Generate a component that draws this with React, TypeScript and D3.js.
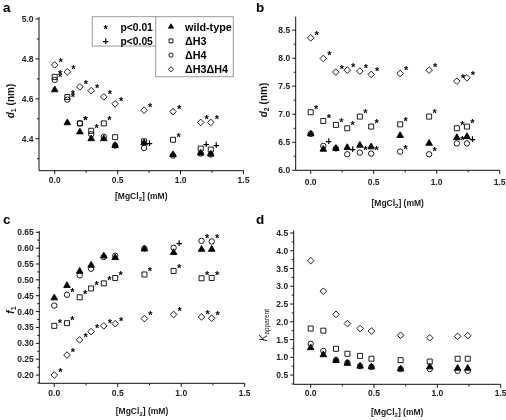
import React from 'react';
import * as d3 from 'd3';

// ---------- data ----------
const mgcl2 = [0, 0.1, 0.2, 0.29, 0.39, 0.48, 0.71, 0.94, 1.16, 1.24];
const xTicks = [0, 0.5, 1.0, 1.5];
const xMinorTicks = [0.25, 0.75, 1.25];

// panel a: d1 (nm)
const d1WildType = [4.645, 4.48, 4.434, 4.4, 4.4, 4.366, 4.379, 4.32, 4.328, 4.323];
const d1H3 = [4.71, 4.609, 4.477, 4.44, 4.477, 4.408, 4.387, 4.395, 4.351, 4.346];
const d1H4 = [4.695, 4.596, 4.477, 4.423, 4.41, 4.366, 4.354, 4.316, 4.326, 4.321];
const d1H3H4 = [4.77, 4.735, 4.66, 4.641, 4.61, 4.575, 4.543, 4.536, 4.482, 4.482];
const d1SigH3 = ['*', '*', '*', '*', '*', '', '', '*', '+', '+'];
const d1SigH4 = ['*', '*', '*', '', '', '', '+', '', '', ''];
const d1SigH3H4 = ['*', '*', '*', '*', '*', '*', '*', '*', '*', '*'];
const d1Ticks = [4.4, 4.6, 4.8, 5.0];

// panel b: d2 (nm)
const d2WildType = [6.65, 6.375, 6.39, 6.405, 6.446, 6.417, 6.62, 6.48, 6.583, 6.6];
const d2H3 = [7.036, 6.88, 6.81, 6.75, 6.958, 6.78, 6.82, 6.958, 6.75, 6.78];
const d2H4 = [6.649, 6.435, 6.39, 6.286, 6.315, 6.298, 6.333, 6.286, 6.48, 6.48];
const d2H3H4 = [8.363, 7.995, 7.752, 7.787, 7.77, 7.71, 7.728, 7.787, 7.59, 7.65];
const d2SigH3 = ['*', '*', '*', '*', '*', '*', '*', '*', '*', '*'];
const d2SigH4 = ['', '+', '', '+', '*', '*', '*', '*', '*', '+'];
const d2SigH3H4 = ['*', '*', '*', '*', '*', '*', '*', '*', '*', '*'];
const d2Ticks = [6.0, 6.5, 7.0, 7.5, 8.0, 8.5];

// panel c: f1
const f1WildType = [0.443, 0.482, 0.527, 0.546, 0.575, 0.57, 0.597, 0.586, 0.596, 0.596];
const f1H3 = [0.355, 0.3635, 0.445, 0.473, 0.489, 0.506, 0.517, 0.528, 0.505, 0.506];
const f1H4 = [0.419, 0.453, 0.514, 0.535, 0.572, 0.576, 0.599, 0.601, 0.623, 0.621];
const f1H3H4 = [0.2, 0.263, 0.311, 0.337, 0.355, 0.362, 0.378, 0.391, 0.383, 0.379];
const f1SigH3 = ['*', '*', '*', '*', '*', '*', '*', '*', '*', '*'];
const f1SigH4 = ['', '*', '', '', '', '', '', '+', '*', '*'];
const f1SigH3H4 = ['*', '*', '*', '*', '*', '*', '*', '*', '*', '*'];
const f1Ticks = [0.2, 0.25, 0.3, 0.35, 0.4, 0.45, 0.5, 0.55, 0.6, 0.65];

// panel d: K apparent
const kWildType = [1.27, 1.07, 0.91, 0.83, 0.75, 0.73, 0.67, 0.73, 0.69, 0.69];
const kH3 = [1.81, 1.75, 1.24, 1.1, 1.04, 0.96, 0.92, 0.88, 0.96, 0.96];
const kH4 = [1.38, 1.18, 0.92, 0.85, 0.75, 0.73, 0.67, 0.67, 0.62, 0.62];
const kH3H4 = [3.72, 2.86, 2.21, 1.95, 1.81, 1.74, 1.62, 1.55, 1.59, 1.61];
const kTicks = [0.5, 1.0, 1.5, 2.0, 2.5, 3.0, 3.5, 4.0, 4.5];

const seriesNames = ['wild-type', '\u0394H3', '\u0394H4', '\u0394H3\u0394H4'];
const sigLabels = ['p<0.01', 'p<0.05'];
const sigSymbols = ['*', '+'];

// ---------- styling ----------
const FONT = '"Liberation Sans", Arial, Helvetica, sans-serif';
type Shape = 'triangle' | 'square' | 'circle' | 'diamond';
const shapes: Shape[] = ['triangle', 'square', 'circle', 'diamond'];

const diamondType = {
  draw(ctx: any, size: number) {
    const r = Math.sqrt(size / 2);
    ctx.moveTo(0, -r);
    ctx.lineTo(r, 0);
    ctx.lineTo(0, r);
    ctx.lineTo(-r, 0);
    ctx.closePath();
  },
};

function symbolPath(shape: Shape, scale = 1): string {
  const gen = d3.symbol();
  if (shape === 'triangle') return gen.type(d3.symbolTriangle).size(19 * scale)() as string;
  if (shape === 'square') return gen.type(d3.symbolSquare).size(25 * scale)() as string;
  if (shape === 'circle') return gen.type(d3.symbolCircle).size(23 * scale)() as string;
  return gen.type(diamondType as any).size(22 * scale)() as string;
}

interface Series {
  values: number[];
  sig?: string[];
  shape: Shape;
}

interface PanelCfg {
  ox: number;
  oy: number;
  left: number;
  right: number;
  top: number;
  bottom: number;
  xMin: number;
  yDomain: [number, number];
  yTicks: number[];
  yMinorStep: number;
  yFmt: string;
  letter: string;
  yLabel: React.ReactNode;
  yLabelPos: [number, number];
  xLabelOff: number;
  xTitleOff: number;
  series: Series[];
  legend?: boolean;
}

const panels: PanelCfg[] = [
  {
    ox: 0, oy: 0, left: 39, right: 243.5, top: 17, bottom: 170.7, xMin: -0.125,
    yDomain: [4.24, 5.01], yTicks: d1Ticks, yMinorStep: 0.1, yFmt: '.1f', letter: 'a',
    yLabel: (
      <>
        <tspan fontStyle="italic">d</tspan>
        <tspan fontSize={7} dy={2}>1</tspan>
        <tspan dy={-2}> (nm)</tspan>
      </>
    ),
    yLabelPos: [14, 101], xLabelOff: 12, xTitleOff: 28,
    series: [
      { values: d1WildType, shape: 'triangle' },
      { values: d1H3, sig: d1SigH3, shape: 'square' },
      { values: d1H4, sig: d1SigH4, shape: 'circle' },
      { values: d1H3H4, sig: d1SigH3H4, shape: 'diamond' },
    ],
    legend: true,
  },
  {
    ox: 253, oy: 0, left: 42.7, right: 246.7, top: 16.7, bottom: 170.3, xMin: -0.119,
    yDomain: [6.0, 8.74], yTicks: d2Ticks, yMinorStep: 0.25, yFmt: '.1f', letter: 'b',
    yLabel: (
      <>
        <tspan fontStyle="italic">d</tspan>
        <tspan fontSize={7} dy={2}>2</tspan>
        <tspan dy={-2}> (nm)</tspan>
      </>
    ),
    yLabelPos: [13.5, 100], xLabelOff: 15, xTitleOff: 36,
    series: [
      { values: d2WildType, shape: 'triangle' },
      { values: d2H3, sig: d2SigH3, shape: 'square' },
      { values: d2H4, sig: d2SigH4, shape: 'circle' },
      { values: d2H3H4, sig: d2SigH3H4, shape: 'diamond' },
    ],
  },
  {
    ox: 0, oy: 210, left: 39.3, right: 244.7, top: 21, bottom: 173.3, xMin: -0.118,
    yDomain: [0.174, 0.654], yTicks: f1Ticks, yMinorStep: 0.025, yFmt: '.2f', letter: 'c',
    yLabel: (
      <>
        <tspan fontStyle="italic">f</tspan>
        <tspan fontSize={7} dy={2}>1</tspan>
      </>
    ),
    yLabelPos: [14, 100], xLabelOff: 13, xTitleOff: 31,
    series: [
      { values: f1WildType, shape: 'triangle' },
      { values: f1H3, sig: f1SigH3, shape: 'square' },
      { values: f1H4, sig: f1SigH4, shape: 'circle' },
      { values: f1H3H4, sig: f1SigH3H4, shape: 'diamond' },
    ],
  },
  {
    ox: 253, oy: 210, left: 40.7, right: 247.7, top: 20.5, bottom: 174.3, xMin: -0.134,
    yDomain: [0.24, 4.57], yTicks: kTicks, yMinorStep: 0.25, yFmt: '.1f', letter: 'd',
    yLabel: (
      <>
        <tspan fontStyle="italic" fontWeight="normal">K</tspan>
        <tspan fontSize={6.5} fontWeight="normal" dy={2}>apparent</tspan>
      </>
    ),
    yLabelPos: [14, 115], xLabelOff: 11.5, xTitleOff: 31,
    series: [
      { values: kWildType, shape: 'triangle' },
      { values: kH3, shape: 'square' },
      { values: kH4, shape: 'circle' },
      { values: kH3H4, shape: 'diamond' },
    ],
  },
];

function Marker({ shape, cx, cy, scale = 1 }: { shape: Shape; cx: number; cy: number; scale?: number }) {
  const filled = shape === 'triangle';
  return (
    <path
      d={symbolPath(shape, scale)}
      transform={`translate(${cx},${cy})`}
      fill={filled ? '#000' : 'none'}
      stroke="#000"
      strokeWidth={0.9}
    />
  );
}

// cx, cy: desired centre of the glyph
function SigMark({ s, cx, cy }: { s: string; cx: number; cy: number }) {
  if (!s) return null;
  return (
    <text
      x={cx}
      y={s === '*' ? cy + 6.4 : cy + 3.7}
      textAnchor="middle"
      fontSize={11}
      fontWeight="bold"
      fontFamily={FONT}
      fill="#000"
    >
      {s}
    </text>
  );
}

function Panel({ cfg }: { cfg: PanelCfg }) {
  const x = d3.scaleLinear().domain([cfg.xMin, 1.5]).range([cfg.left, cfg.right]);
  const y = d3.scaleLinear().domain(cfg.yDomain).range([cfg.bottom, cfg.top]);
  const fmt = d3.format(cfg.yFmt);
  const yMinor: number[] = [];
  const st = cfg.yMinorStep;
  for (let v = Math.ceil(cfg.yDomain[0] / st - 1e-6) * st; v <= cfg.yDomain[1] + 1e-9; v += st) {
    if (!cfg.yTicks.some((t) => Math.abs(t - v) < st / 4)) yMinor.push(v);
  }
  const xFmt = d3.format('.1f');
  const axisColor = '#111';
  return (
    <g transform={`translate(${cfg.ox},${cfg.oy})`} fontFamily={FONT}>
      <text x={3} y={cfg.oy === 0 ? 11.5 : 13.5} fontSize={13.5} fontWeight="bold" fill="#000">
        {cfg.letter}
      </text>
      {/* axes */}
      <line x1={cfg.left} x2={cfg.left} y1={cfg.top} y2={cfg.bottom} stroke={axisColor} strokeWidth={1} />
      <line x1={cfg.left} x2={cfg.right} y1={cfg.bottom} y2={cfg.bottom} stroke={axisColor} strokeWidth={1} />
      {cfg.yTicks.map((t) => (
        <g key={'yt' + t}>
          <line x1={cfg.left - 3.5} x2={cfg.left} y1={y(t)} y2={y(t)} stroke={axisColor} strokeWidth={1} />
          <text x={cfg.left - 5.5} y={y(t) + 3} textAnchor="end" fontSize={8.5} fontWeight="bold" fill="#222">
            {fmt(t)}
          </text>
        </g>
      ))}
      {yMinor.map((t) => (
        <line key={'ym' + t} x1={cfg.left - 2} x2={cfg.left} y1={y(t)} y2={y(t)} stroke={axisColor} strokeWidth={1} />
      ))}
      {xTicks.map((t) => (
        <g key={'xt' + t}>
          <line x1={x(t)} x2={x(t)} y1={cfg.bottom} y2={cfg.bottom + 3.5} stroke={axisColor} strokeWidth={1} />
          <text x={x(t)} y={cfg.bottom + cfg.xLabelOff} textAnchor="middle" fontSize={8.5} fontWeight="bold" fill="#222">
            {xFmt(t)}
          </text>
        </g>
      ))}
      {xMinorTicks.map((t) => (
        <line key={'xm' + t} x1={x(t)} x2={x(t)} y1={cfg.bottom} y2={cfg.bottom + 2} stroke={axisColor} strokeWidth={1} />
      ))}
      <text
        x={(cfg.left + cfg.right) / 2}
        y={cfg.bottom + cfg.xTitleOff}
        textAnchor="middle"
        fontSize={8.5}
        fontWeight="bold"
        fill="#222"
      >
        [MgCl<tspan fontSize={6} dy={2}>2</tspan>
        <tspan dy={-2}>] (mM)</tspan>
      </text>
      <text
        transform={`translate(${cfg.yLabelPos[0]},${cfg.yLabelPos[1]}) rotate(-90)`}
        textAnchor="middle"
        fontSize={10}
        fontWeight="bold"
        fill="#111"
      >
        {cfg.yLabel}
      </text>
      {/* data */}
      {cfg.series.map((s, si) => (
        <g key={'s' + si}>
          {s.values.map((v, i) => (
            <Marker key={i} shape={s.shape} cx={x(mgcl2[i])} cy={y(v)} />
          ))}
          {s.sig &&
            s.values.map((v, i) => (
              <SigMark
                key={'g' + i}
                s={s.sig![i]}
                cx={x(mgcl2[i]) + (s.shape === 'diamond' ? 6 : 5.5)}
                cy={y(v) - (s.sig![i] === '*' ? 5.5 : 4.5)}
              />
            ))}
        </g>
      ))}
      {cfg.legend && <Legend />}
    </g>
  );
}

function Legend() {
  const rowY = (i: number) => 26.7 + 14.2 * i;
  return (
    <g fontFamily={FONT}>
      <rect x={92.3} y={16.7} width={65.4} height={29.3} fill="#fff" stroke="#999" strokeWidth={1} />
      <rect x={155.7} y={16.7} width={77.6} height={60} fill="#fff" stroke="#999" strokeWidth={1} />
      {sigLabels.map((lab, i) => (
        <g key={lab}>
          <SigMark s={sigSymbols[i]} cx={105.7} cy={rowY(i)} />
          <text x={120.5} y={rowY(i) + 4} fontSize={10.3} fontWeight="bold" fill="#000">
            {lab}
          </text>
        </g>
      ))}
      {seriesNames.map((name, i) => (
        <g key={name}>
          <Marker shape={shapes[i]} cx={171} cy={rowY(i)} scale={0.6} />
          <text x={185} y={rowY(i) + 4} fontSize={10.8} fontWeight="bold" fill="#000">
            {name}
          </text>
        </g>
      ))}
    </g>
  );
}

export default function App() {
  return (
    <svg
      width={506}
      height={420}
      viewBox="0 0 506 420"
      style={{ position: 'absolute', left: 0, top: 0, background: '#fff' }}
    >
      <rect x={0} y={0} width={506} height={420} fill="#fff" />
      <g opacity={0.999}>
        {panels.map((p) => (
          <Panel key={p.letter} cfg={p} />
        ))}
      </g>
    </svg>
  );
}
